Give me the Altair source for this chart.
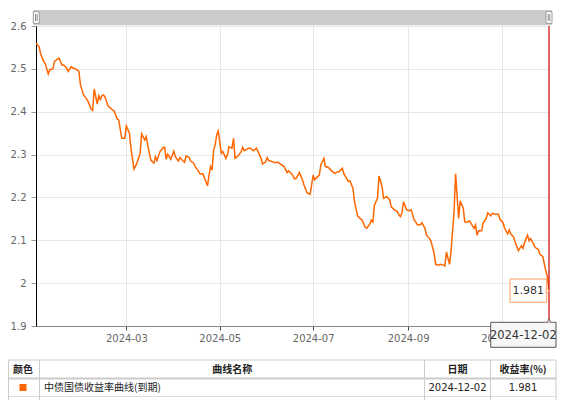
import altair as alt
import pandas as pd

# ---------------- data ----------------
dates = [
    "2024-01-02", "2024-01-04", "2024-01-05", "2024-01-07", "2024-01-08", "2024-01-10",
    "2024-01-11", "2024-01-13", "2024-01-14", "2024-01-16", "2024-01-17", "2024-01-19",
    "2024-01-20", "2024-01-22", "2024-01-23", "2024-01-25", "2024-01-26", "2024-01-28",
    "2024-01-30", "2024-01-31",
    "2024-02-02", "2024-02-03", "2024-02-05", "2024-02-07", "2024-02-08", "2024-02-09",
    "2024-02-11", "2024-02-12", "2024-02-13", "2024-02-14", "2024-02-15", "2024-02-16",
    "2024-02-18", "2024-02-19", "2024-02-21", "2024-02-22", "2024-02-24", "2024-02-25",
    "2024-02-27", "2024-02-29",
    "2024-03-01", "2024-03-03", "2024-03-04", "2024-03-06", "2024-03-07", "2024-03-08",
    "2024-03-10", "2024-03-11", "2024-03-13", "2024-03-14", "2024-03-15", "2024-03-17",
    "2024-03-19", "2024-03-20", "2024-03-21", "2024-03-23", "2024-03-25", "2024-03-26",
    "2024-03-27", "2024-03-28", "2024-03-30",
    "2024-04-01", "2024-04-02", "2024-04-04", "2024-04-05", "2024-04-07", "2024-04-08",
    "2024-04-09", "2024-04-11", "2024-04-12", "2024-04-14", "2024-04-15", "2024-04-17",
    "2024-04-18", "2024-04-20", "2024-04-21", "2024-04-23", "2024-04-24", "2024-04-25",
    "2024-04-26", "2024-04-27", "2024-04-28", "2024-04-29", "2024-04-30",
    "2024-05-02", "2024-05-03", "2024-05-05", "2024-05-06", "2024-05-07", "2024-05-09",
    "2024-05-10", "2024-05-11", "2024-05-13", "2024-05-15", "2024-05-16", "2024-05-17",
    "2024-05-20", "2024-05-21", "2024-05-23", "2024-05-25", "2024-05-26", "2024-05-28",
    "2024-05-29", "2024-05-31",
    "2024-06-01", "2024-06-02", "2024-06-05", "2024-06-06", "2024-06-08", "2024-06-10",
    "2024-06-12", "2024-06-14", "2024-06-15", "2024-06-17", "2024-06-19", "2024-06-20",
    "2024-06-22", "2024-06-24", "2024-06-25", "2024-06-27", "2024-06-29",
    "2024-07-01", "2024-07-02", "2024-07-03", "2024-07-05", "2024-07-06", "2024-07-08",
    "2024-07-09", "2024-07-11", "2024-07-13", "2024-07-15", "2024-07-17", "2024-07-18",
    "2024-07-20", "2024-07-21", "2024-07-24", "2024-07-25", "2024-07-27", "2024-07-28",
    "2024-07-30",
    "2024-08-01", "2024-08-02", "2024-08-04", "2024-08-05", "2024-08-07", "2024-08-08",
    "2024-08-09", "2024-08-10", "2024-08-12", "2024-08-13", "2024-08-15", "2024-08-16",
    "2024-08-18", "2024-08-20", "2024-08-21", "2024-08-23", "2024-08-25", "2024-08-26",
    "2024-08-27", "2024-08-28", "2024-08-29", "2024-08-31",
    "2024-09-02", "2024-09-03", "2024-09-05", "2024-09-06", "2024-09-07", "2024-09-09",
    "2024-09-10", "2024-09-12", "2024-09-13", "2024-09-15", "2024-09-16", "2024-09-18",
    "2024-09-19", "2024-09-21", "2024-09-22", "2024-09-24", "2024-09-25", "2024-09-26",
    "2024-09-28", "2024-09-29",
    "2024-10-01", "2024-10-02", "2024-10-04", "2024-10-05", "2024-10-07", "2024-10-08",
    "2024-10-09", "2024-10-11", "2024-10-12", "2024-10-14", "2024-10-15", "2024-10-16",
    "2024-10-17", "2024-10-19", "2024-10-20", "2024-10-22", "2024-10-23", "2024-10-25",
    "2024-10-26", "2024-10-28", "2024-10-30", "2024-10-31",
    "2024-11-02", "2024-11-03", "2024-11-05", "2024-11-06", "2024-11-07", "2024-11-09",
    "2024-11-10", "2024-11-12", "2024-11-14", "2024-11-15", "2024-11-16", "2024-11-18",
    "2024-11-19", "2024-11-20", "2024-11-22", "2024-11-23", "2024-11-25", "2024-11-26",
    "2024-11-28", "2024-11-29", "2024-11-30", "2024-12-01", "2024-12-02",
]

yields = [
    2.560, 2.552, 2.535, 2.517, 2.513, 2.488,
    2.498, 2.500, 2.517, 2.523, 2.525, 2.509,
    2.509, 2.502, 2.494, 2.505, 2.502, 2.500,
    2.494, 2.463,
    2.439, 2.435, 2.424, 2.406, 2.403, 2.453,
    2.418, 2.437, 2.429, 2.437, 2.439, 2.435,
    2.414, 2.410, 2.404, 2.402, 2.383, 2.381,
    2.338, 2.338,
    2.367, 2.350, 2.315, 2.266, 2.273, 2.281,
    2.303, 2.348, 2.334, 2.342, 2.322, 2.287,
    2.280, 2.295, 2.286, 2.307, 2.316, 2.317,
    2.289, 2.301, 2.289,
    2.308, 2.295, 2.285, 2.293, 2.285, 2.282,
    2.297, 2.293, 2.285, 2.280, 2.272, 2.262,
    2.255, 2.255, 2.246, 2.227, 2.252, 2.272,
    2.264, 2.311, 2.322, 2.346, 2.355,
    2.303, 2.307, 2.291, 2.299, 2.318, 2.315,
    2.338, 2.291, 2.297, 2.307, 2.317, 2.309,
    2.315, 2.315, 2.309, 2.315, 2.307, 2.291,
    2.278, 2.283,
    2.293, 2.286, 2.283, 2.281, 2.282, 2.277,
    2.272, 2.258, 2.262, 2.255, 2.243, 2.245,
    2.258, 2.241, 2.229, 2.211, 2.207,
    2.252, 2.241, 2.245, 2.252, 2.276, 2.291,
    2.272, 2.270, 2.262, 2.256, 2.260, 2.260,
    2.268, 2.256, 2.237, 2.239, 2.221, 2.190,
    2.157,
    2.150, 2.147, 2.130, 2.128, 2.138, 2.147,
    2.143, 2.182, 2.198, 2.250, 2.225, 2.198,
    2.202, 2.194, 2.178, 2.171, 2.167, 2.159,
    2.155, 2.164, 2.190, 2.171,
    2.169, 2.171, 2.147, 2.143, 2.136, 2.136,
    2.141, 2.128, 2.112, 2.104, 2.097, 2.069,
    2.044, 2.042, 2.044, 2.042, 2.040, 2.073,
    2.044, 2.073,
    2.167, 2.255, 2.151, 2.192, 2.175, 2.143,
    2.142, 2.145, 2.140, 2.128, 2.136, 2.112,
    2.122, 2.122, 2.140, 2.151, 2.164, 2.157,
    2.163, 2.161, 2.161, 2.149,
    2.141, 2.128, 2.115, 2.124, 2.115, 2.107,
    2.094, 2.076, 2.087, 2.081, 2.094, 2.112,
    2.099, 2.104, 2.091, 2.083, 2.079, 2.068,
    2.062, 2.044, 2.027, 2.015, 1.981,
]

y_ticks = [1.9, 2.0, 2.1, 2.2, 2.3, 2.4, 2.5, 2.6]
x_tick_months = [3, 5, 7, 9, 11]

series_name = "中债国债收益率曲线(到期)"
last_date = dates[-1]
last_value = yields[-1]
table_headers = ["颜色", "曲线名称", "日期", "收益率(%)"]

df = pd.DataFrame({"date": dates, "yield": yields})
one = pd.DataFrame({"k": [0]})

# ---------------- styling ----------------
W, H = 513, 300
ORANGE = "#ff6600"
FONT = "DejaVu Sans"
CJK = "Noto Sans CJK SC"
GRID = "#e6e6e6"

x_scale = alt.Scale(
    type="utc",
    domain=[alt.DateTime(year=2024, month=1, date=2, utc=True),
            alt.DateTime(year=2024, month=12, date=2, utc=True)],
    nice=False,
)
y_scale = alt.Scale(domain=[1.9, 2.6], nice=False, zero=False)

line = alt.Chart(df).mark_line(color=ORANGE, strokeWidth=1.5, clip=True).encode(
    x=alt.X("date:T", scale=x_scale, title=None,
            axis=alt.Axis(
                values=[alt.DateTime(year=2024, month=m, date=1, utc=True) for m in x_tick_months],
                labelExpr="utcFormat(datum.value, '%Y-%m')",
                grid=True, gridColor=GRID, domainColor="#888", tickColor="#444",
                tickSize=4, labelColor="#666", labelFont=FONT, labelFontSize=10,
                labelPadding=3)),
    y=alt.Y("yield:Q", scale=y_scale, title=None,
            axis=alt.Axis(values=y_ticks, format="~f", grid=True, gridColor=GRID,
                          domainColor="#000", tickColor="#999", tickSize=5,
                          labelColor="#666", labelFont=FONT, labelFontSize=10,
                          labelPadding=5)),
)


def rect(x, x2, y, y2, **kw):
    return alt.Chart(one).mark_rect(**kw).encode(
        x=alt.value(x), x2=alt.value(x2), y=alt.value(y), y2=alt.value(y2))


def hrule(x, x2, y, **kw):
    return alt.Chart(one).mark_rule(**kw).encode(
        x=alt.value(x), x2=alt.value(x2), y=alt.value(y))


def vrule(x, y, y2, **kw):
    return alt.Chart(one).mark_rule(**kw).encode(
        x=alt.value(x), y=alt.value(y), y2=alt.value(y2))


def text(t, x, y, **kw):
    return alt.Chart(one).mark_text(text=t, **kw).encode(
        x=alt.value(x), y=alt.value(y))


deco = []
# scrollbar at the top
deco.append(rect(-2.7, 516, -16, -0.7, color="#cccccc"))
for hx in (-2.7, 510):
    deco.append(rect(hx, hx + 6, -14.3, -2.7, fill="#ffffff", stroke="#999999", strokeWidth=1))
    deco.append(vrule(hx + 2.2, -12, -5, color="#888888", strokeWidth=1))
    deco.append(vrule(hx + 3.8, -12, -5, color="#888888", strokeWidth=1))

# crosshair
deco.append(vrule(513, 0, 296, color="#cc0000", strokeWidth=1.2))

# value label
deco.append(rect(474, 510.7, 253, 276.3, fill="#ffffff", fillOpacity=0.9,
                 stroke="#ff9a5c", strokeWidth=1))
deco.append(alt.Chart(one).mark_point(shape="triangle-right", size=22, filled=True,
                                      color="#ffffff", stroke="#ff9a5c", strokeWidth=1)
            .encode(x=alt.value(512), y=alt.value(264.7)))
deco.append(text(f"{last_value:.3f}", 492.3, 264.7, font=FONT, fontSize=11,
                 color="#333333", align="center", baseline="middle"))

# date label
deco.append(rect(454.7, 520, 296.3, 321.3, fill="#f7f7f7", stroke="#555555", strokeWidth=1))
deco.append(alt.Chart(one).mark_point(shape="triangle-up", size=24, filled=True,
                                      color="#f7f7f7", stroke="#555555", strokeWidth=1)
            .encode(x=alt.value(513), y=alt.value(295)))
deco.append(rect(508, 518, 296.8, 299, color="#f7f7f7"))
deco.append(text(last_date, 487.3, 309.5, font=FONT, fontSize=11.5,
                 color="#333333", align="center", baseline="middle"))

# table below
TCOL = "#cccccc"
deco.append(rect(-27.5, 520, 334, 352.5, fill="#ffffff"))
deco.append(hrule(-27.5, 520, 334, color=TCOL, strokeWidth=1))
deco.append(hrule(-27.5, 520, 352.5, color=TCOL, strokeWidth=2))
deco.append(hrule(-27.5, 520, 370.5, color="#dddddd", strokeWidth=1))
for vx in (-27.5, 3.5, 388.5, 454.5, 520):
    deco.append(vrule(vx, 334, 374, color=TCOL, strokeWidth=1))

header_x = [-13, 196.3, 421.5, 487]
for h, hx in zip(table_headers, header_x):
    deco.append(text(h, hx, 343.5, font=CJK, fontSize=10, fontWeight="bold",
                     color="#222222", align="center", baseline="middle"))

deco.append(rect(-16.5, -9.5, 358, 365, color=ORANGE))
deco.append(text(series_name, 8, 361.5, font=CJK, fontSize=10, color="#222222",
                 align="left", baseline="middle"))
deco.append(text(last_date, 421.5, 361.5, font=FONT, fontSize=10, color="#222222",
                 align="center", baseline="middle"))
deco.append(text(f"{last_value:.3f}", 487, 361.5, font=FONT, fontSize=10, color="#222222",
                 align="center", baseline="middle"))

chart = alt.layer(line, *deco).properties(
    width=W, height=H,
    autosize=alt.AutoSizeParams(type="none"),
    padding={"left": 28, "top": 18, "right": 15, "bottom": 74},
).configure_view(stroke=None)

chart.save("out.html", embed_options={"renderer": "svg", "actions": False})
